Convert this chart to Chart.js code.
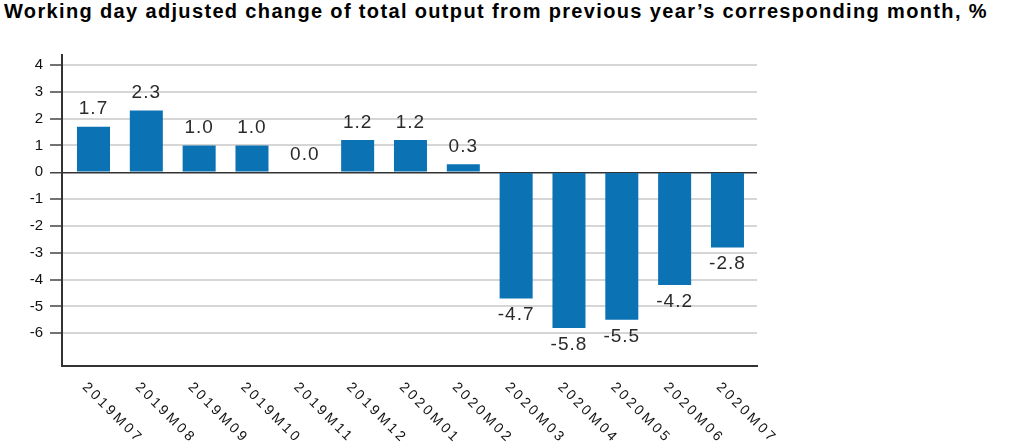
<!DOCTYPE html>
<html>
<head>
<meta charset="utf-8">
<script src="https://cdn.jsdelivr.net/npm/chart.js@4/dist/chart.umd.min.js"></script>
<style>
    html, body { margin: 0; padding: 0; background: #fff; }
    #wrap { position: relative; width: 1012px; height: 448px; overflow: hidden; }
    #title {
        position: absolute; left: 4px; top: 0px;
        font: bold 20px "Liberation Sans", Arial, sans-serif; color: #000;
        letter-spacing: 1.35px;
        white-space: nowrap;
    }
    canvas { position: absolute; left: 0; top: 0; }
</style>
</head>
<body>
<div id="wrap">
    <div id="title">Working day adjusted change of total output from previous year’s corresponding month, %</div>
    <canvas id="chart" width="1012" height="448"></canvas>
</div>
<script>
let months = ['2019M07', '2019M08', '2019M09', '2019M10', '2019M11', '2019M12', '2020M01',
    '2020M02', '2020M03', '2020M04', '2020M05', '2020M06', '2020M07'];
let change = [1.7, 2.3, 1.0, 1.0, 0.0, 1.2, 1.2, 0.3, -4.7, -5.8, -5.5, -4.2, -2.8];
let yTicks = [4, 3, 2, 1, 0, -1, -2, -3, -4, -5, -6];

// value labels above / below each bar
let barLabels = {
    id: 'barLabels',
    afterDatasetsDraw: function (chart) {
        let ctx = chart.ctx;
        let meta = chart.getDatasetMeta(0);
        ctx.save();
        ctx.font = '19px "Liberation Sans", Arial, sans-serif';
        ctx.letterSpacing = '1px';
        ctx.fillStyle = '#2a2a2a';
        ctx.textAlign = 'center';
        meta.data.forEach(function (bar, i) {
            let v = change[i];
            if (v >= 0) {
                ctx.textBaseline = 'bottom';
                ctx.fillText(v.toFixed(1), bar.x, bar.y - 8);
            } else {
                ctx.textBaseline = 'top';
                ctx.fillText(v.toFixed(1), bar.x, bar.y + 7);
            }
        });
        ctx.restore();
    }
};

// month labels, tilted down to the right
let monthLabels = {
    id: 'monthLabels',
    afterDraw: function (chart) {
        let ctx = chart.ctx;
        let x = chart.scales.x;
        ctx.save();
        ctx.font = '14px "Liberation Sans", Arial, sans-serif';
        ctx.letterSpacing = '3px';
        ctx.fillStyle = '#111';
        ctx.textAlign = 'left';
        ctx.textBaseline = 'top';
        months.forEach(function (m, i) {
            ctx.save();
            ctx.translate(x.getPixelForValue(i) - 4, chart.chartArea.bottom + 14);
            ctx.rotate(Math.PI / 4);
            ctx.fillText(m, 0, 0);
            ctx.restore();
        });
        ctx.restore();
    }
};

new Chart(document.getElementById('chart').getContext('2d'), {
    type: 'bar',
    data: {
        datasets: [{
            data: change.map(function (v, i) { return { x: i, y: v }; }),
            backgroundColor: '#0b72b4',
            borderWidth: 0,
            barPercentage: 0.625,
            categoryPercentage: 1
        }]
    },
    options: {
        responsive: false,
        animation: false,
        layout: { padding: { top: 55, right: 255, left: 0, bottom: 0 } },
        plugins: {
            legend: { display: false },
            title: { display: false },
            tooltip: { enabled: false }
        },
        scales: {
            x: {
                type: 'linear',
                offset: false,
                min: -0.596,
                max: 12.559,
                grid: { display: false },
                border: { display: true, color: '#333', width: 2 },
                ticks: { display: false },
                afterFit: function (scale) { scale.height = 82; }
            },
            y: {
                min: -7.22,
                max: 4.37,
                afterBuildTicks: function (scale) {
                    scale.ticks = yTicks.map(function (v) { return { value: v }; });
                },
                afterFit: function (scale) { scale.width = 62; },
                grid: {
                    color: function (c) { return c.tick && c.tick.value === 0 ? '#333' : '#d6d6d6'; },
                    lineWidth: function (c) { return c.tick && c.tick.value === 0 ? 1.5 : 2; },
                    tickColor: '#444',
                    tickLength: 12,
                    tickWidth: 1.5
                },
                border: { display: true, color: '#333', width: 2 },
                ticks: {
                    padding: 7,
                    color: '#111',
                    font: { family: '"Liberation Sans", Arial, sans-serif', size: 15 }
                }
            }
        }
    },
    plugins: [barLabels, monthLabels]
});
</script>
</body>
</html>
